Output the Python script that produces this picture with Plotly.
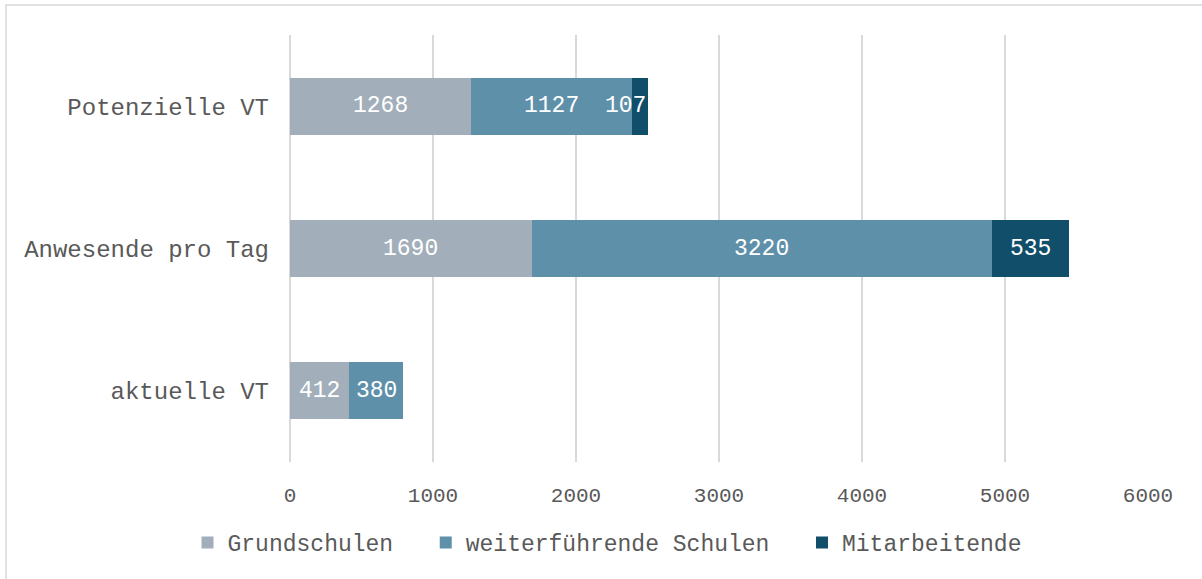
import plotly.graph_objects as go

# Data
categories = ["Potenzielle VT", "Anwesende pro Tag", "aktuelle VT"]
series_names = ["Grundschulen", "weiterführende Schulen", "Mitarbeitende"]
grundschulen = [1268, 1690, 412]
weiterfuehrende = [1127, 3220, 380]
mitarbeitende = [107, 535, 0]
x_ticks = [0, 1000, 2000, 3000, 4000, 5000, 6000]

colors = ["#A2AFBA", "#5E90AA", "#114E69"]
mono = "Liberation Mono, Courier New, monospace"

series = [grundschulen, weiterfuehrende, mitarbeitende]

fig = go.Figure()
for k, (name, values, color) in enumerate(zip(series_names, series, colors)):
    # trailing spaces widen the gap between legend entries
    legend_name = name + ("  " if k < len(series_names) - 1 else "")
    fig.add_trace(go.Bar(
        y=categories,
        x=values,
        name=legend_name,
        orientation="h",
        marker=dict(color=color, line=dict(width=0)),
        hovertemplate="%{y}: %{x}<extra>" + name + "</extra>",
    ))

# Value labels: centred on each segment, pushed left to the segment end
# when the label is wider than the segment (like the spreadsheet does)
px_per_unit = 858 / 6000
char_w = 13.8
for i, cat in enumerate(categories):
    start = 0
    for values in series:
        v = values[i]
        if v:
            label_units = len(str(v)) * char_w / px_per_unit
            if label_units + 4 / px_per_unit > v:
                x, anchor = start + v, "right"
            else:
                x, anchor = start + v / 2, "center"
            fig.add_annotation(
                x=x, y=cat, text=str(v), showarrow=False,
                xanchor=anchor, yanchor="middle",
                font=dict(family=mono, size=23, color="white"),
            )
        start += v

fig.update_layout(
    width=1202,
    height=579,
    barmode="stack",
    bargap=0.6,
    plot_bgcolor="white",
    paper_bgcolor="white",
    margin=dict(l=290, r=54, t=35, b=117),
    font=dict(family=mono, color="#595959", size=22),
    legend=dict(
        orientation="h",
        xref="container", yref="container",
        x=0.505, xanchor="center",
        y=0.063, yanchor="middle",
        font=dict(family=mono, size=23, color="#595959"),
        itemwidth=30,
        traceorder="normal",
    ),
    showlegend=True,
)

fig.update_xaxes(
    range=[0, 6000],
    tickvals=x_ticks,
    ticktext=[str(t) for t in x_ticks],
    showgrid=True,
    gridcolor="#D9D9D9",
    gridwidth=1.5,
    zeroline=True,
    zerolinecolor="#D9D9D9",
    zerolinewidth=1.5,
    showline=False,
    ticks="",
    ticklabelstandoff=18,
    tickfont=dict(family=mono, size=21, color="#595959"),
    fixedrange=True,
)

fig.update_yaxes(
    categoryorder="array",
    categoryarray=categories[::-1],
    showgrid=False,
    showline=False,
    ticks="",
    ticklabelstandoff=20,
    tickfont=dict(family=mono, size=24, color="#595959"),
    fixedrange=True,
)

# Outer chart border (only left and top edges fall inside the image)
fig.add_shape(
    type="rect",
    xref="paper", yref="paper",
    x0=(6 - 290) / 858, x1=(1210 - 290) / 858,
    y0=(462 - 590) / 427, y1=1 + 30 / 427,
    line=dict(color="#D9D9D9", width=1.5),
    fillcolor="rgba(0,0,0,0)",
    layer="below",
)

fig.write_html(
    "out.html",
    config={"displayModeBar": False},
    post_script="document.body.style.margin='0';",
)
